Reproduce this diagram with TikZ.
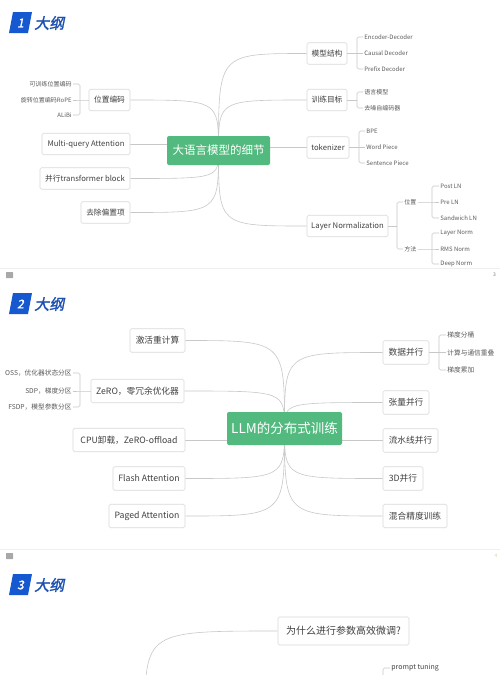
\documentclass[tikz,border=0pt]{standalone}
\usepackage{fontspec}
\setmainfont{Noto Sans CJK SC}
\newfontfamily\titlefont[FakeSlant=0.2,FakeBold=1.5]{Noto Sans CJK SC}
\usetikzlibrary{backgrounds}
\definecolor{mmgreen}{HTML}{52BA7E}
\definecolor{boxline}{HTML}{D9D9D9}
\definecolor{linegray}{HTML}{C8C8C8}
\definecolor{txtdark}{HTML}{404040}
\definecolor{txtleaf}{HTML}{5A5A5A}
\definecolor{titleblue}{HTML}{1558D0}
\definecolor{titletext}{HTML}{1C50B0}
\definecolor{sepgray}{HTML}{EFEFEF}
\definecolor{markgray}{HTML}{A8A8A8}
\definecolor{pagefaint}{HTML}{E2D3A6}
\begin{document}
\begin{tikzpicture}[x=1pt,y=-1pt,
  box/.style={draw=boxline, fill=white, rounded corners=1.5pt, line width=0.6pt, text=txtdark, inner sep=0pt, align=center},
  sa/.style={box, minimum height=21.5pt, font=\fontsize{7.7}{9}\selectfont},
  sb/.style={box, minimum height=23.5pt, font=\fontsize{8.7}{10}\selectfont},
  hub/.style={fill=mmgreen, text=white, rounded corners=2pt, inner sep=0pt},
  leaf/.style={text=txtleaf, inner sep=1.2pt, font=\fontsize{6}{7}\selectfont},
  leafb/.style={text=txtleaf, inner sep=1.2pt, font=\fontsize{6.7}{7.5}\selectfont},
  link/.style={draw=linegray, line width=0.6pt},
  brk/.style={draw=linegray, line width=0.6pt, rounded corners=1.5pt},
  ttl/.style={text=titletext, font=\titlefont\fontsize{15}{15}\selectfont, inner sep=0pt},
  ttn/.style={text=white, font=\titlefont\fontsize{12}{12}\selectfont, inner sep=0pt},
]
\useasboundingbox (0,0) rectangle (500,675);

% ---------- titles ----------
\foreach \i/\o in {1/0,2/281,3/562}{
  \fill[titleblue] (13,{12+\o}) -- (32,{12+\o}) -- (28,{33+\o}) -- (9,{33+\o}) -- cycle;
  \node[ttn] (num\i) at (20.5,{23+\o}) {\i};
  \node[ttl, anchor=west] (ttl\i) at (34,{23+\o}) {大纲};
}

% ---------- slide separators and page marks ----------
\draw[sepgray, line width=1pt] (0,268) -- (500,268);
\draw[sepgray, line width=1pt] (0,549) -- (500,549);
\fill[markgray, rounded corners=0.5pt] (6,272) rectangle (13,278);
\fill[markgray, rounded corners=0.5pt] (6,553) rectangle (13,559);
\node[text=gray, font=\fontsize{5}{5}\selectfont, inner sep=0pt] (pg1) at (494.5,274.5) {3};
\node[text=pagefaint, font=\fontsize{5}{5}\selectfont, inner sep=0pt] (pg2) at (496,555.5) {4};

% ================= slide 1 =================
\node[hub, minimum width=103pt, minimum height=29pt, font=\fontsize{11.5}{13}\selectfont] (c1) at (218.5,150.5) {大语言模型的细节};

\node[sa, minimum width=40pt] (mx) at (327,53.5) {模型结构};
\node[sa, minimum width=40pt] (xl) at (327,100) {训练目标};
\node[sa, minimum width=42pt] (tk) at (328,147.5) {tokenizer};
\node[sa, minimum width=81pt] (ln) at (347.5,226) {Layer Normalization};
\node[sa, minimum width=41pt] (wz) at (109.5,100) {位置编码};
\node[sa, minimum width=88pt] (mq) at (86,144) {Multi-query Attention};
\node[sa, minimum width=90pt] (bx) at (85,178.5) {并行transformer block};
\node[sa, minimum width=49pt] (qc) at (105.5,212.5) {去除偏置项};

% leaves slide 1
\node[leaf, anchor=west] (m1) at (363,37) {Encoder-Decoder};
\node[leaf, anchor=west] (m2) at (363,53.5) {Causal Decoder};
\node[leaf, anchor=west] (m3) at (363,69) {Prefix Decoder};
\node[leaf, anchor=west] (x1) at (363,92) {语言模型};
\node[leaf, anchor=west] (x2) at (363,108) {去噪自编码器};
\node[leaf, anchor=west] (k1) at (365,131) {BPE};
\node[leaf, anchor=west] (k2) at (365,147.5) {Word Piece};
\node[leaf, anchor=west] (k3) at (365,163) {Sentence Piece};
\node[leaf, anchor=west] (p1) at (403,202) {位置};
\node[leaf, anchor=west] (p2) at (403,249) {方法};
\node[leaf, anchor=west] (n1) at (439,186) {Post LN};
\node[leaf, anchor=west] (n2) at (439,202) {Pre LN};
\node[leaf, anchor=west] (n3) at (439,218) {Sandwich LN};
\node[leaf, anchor=west] (n4) at (439,233) {Layer Norm};
\node[leaf, anchor=west] (n5) at (439,249) {RMS Norm};
\node[leaf, anchor=west] (n6) at (439,264) {Deep Norm};
\node[leaf, anchor=east] (w1) at (73,84) {可训练位置编码};
\node[leaf, anchor=east] (w2) at (73,100) {旋转位置编码RoPE};
\node[leaf, anchor=east] (w3) at (73,115) {ALiBi};

\coordinate (mxb) at (357,53.5);
\coordinate (xlb) at (357,100);
\coordinate (tkb) at (359,147.5);
\coordinate (lnb) at (397,226);
\coordinate (p1b) at (432,202);
\coordinate (p2b) at (432,249);
\coordinate (wzb) at (80,100);

% ================= slide 2 =================
\node[hub, minimum width=115pt, minimum height=33pt, font=\fontsize{13.5}{15}\selectfont] (c2) at (284.5,428.5) {LLM的分布式训练};

\node[sb, minimum width=55pt] (jh) at (157.5,340.5) {激活重计算};
\node[sb, minimum width=93pt] (zr) at (137.5,391) {ZeRO，零冗余优化器};
\node[sb, minimum width=112pt] (cpu) at (129,440) {CPU卸载，ZeRO-offload};
\node[sb, minimum width=72pt] (fa) at (149,478.5) {Flash Attention};
\node[sb, minimum width=76pt] (pa) at (147,516) {Paged Attention};
\node[sb, minimum width=46pt] (sj) at (406,352.5) {数据并行};
\node[sb, minimum width=46pt] (zl) at (406,402.5) {张量并行};
\node[sb, minimum width=55pt] (ls) at (410.5,440.5) {流水线并行};
\node[sb, minimum width=40pt] (sd) at (403,478.5) {3D并行};
\node[sb, minimum width=64pt] (hh) at (415,516) {混合精度训练};

\node[leafb, anchor=west] (d1) at (446,335) {梯度分桶};
\node[leafb, anchor=west] (d2) at (446,352.5) {计算与通信重叠};
\node[leafb, anchor=west] (d3) at (446,370) {梯度累加};
\node[leafb, anchor=east] (z1) at (73,373) {OSS，优化器状态分区};
\node[leafb, anchor=east] (z2) at (73,391) {SDP，梯度分区};
\node[leafb, anchor=east] (z3) at (73,407) {FSDP，模型参数分区};

\coordinate (sjb) at (439,352.5);
\coordinate (zrb) at (80,391);

% ================= slide 3 =================
\node[box, minimum width=131pt, minimum height=28pt, font=\fontsize{10}{12}\selectfont] (q3) at (343.5,631) {为什么进行参数高效微调?};
\node[text=txtdark, inner sep=1.2pt, font=\fontsize{7}{8}\selectfont, anchor=west] (pt) at (390,668) {prompt tuning};
\coordinate (c3) at (145,720);
\coordinate (ptb) at (383,700);

% ================= connectors =================
\begin{scope}[on background layer]
  \fill[white] (0,0) rectangle (500,675);
  % slide 1
  \path[link] (c1.center) .. controls (c1.center |- mx.west) .. (mx.west);
  \path[link] (c1.center) .. controls (c1.center |- xl.west) .. (xl.west);
  \path[link] (tk.west -| c1.east) -- (tk.west);
  \path[link] (c1.center) .. controls (c1.center |- ln.west) .. (ln.west);
  \path[link] (c1.center) .. controls (c1.center |- wz.east) .. (wz.east);
  \path[link] (mq.east) -- (mq.east -| c1.west);
  \path[link] (c1.center) .. controls (c1.center |- bx.east) .. (bx.east);
  \path[link] (c1.center) .. controls (c1.center |- qc.east) .. (qc.east);
  % slide 2
  \path[link] (c2.center) .. controls (c2.center |- jh.east) .. (jh.east);
  \path[link] (c2.center) .. controls (c2.center |- zr.east) .. (zr.east);
  \path[link] (cpu.east) -- (cpu.east -| c2.west);
  \path[link] (c2.center) .. controls (c2.center |- fa.east) .. (fa.east);
  \path[link] (c2.center) .. controls (c2.center |- pa.east) .. (pa.east);
  \path[link] (c2.center) .. controls (c2.center |- sj.west) .. (sj.west);
  \path[link] (c2.center) .. controls (c2.center |- zl.west) .. (zl.west);
  \path[link] (ls.west -| c2.east) -- (ls.west);
  \path[link] (c2.center) .. controls (c2.center |- sd.west) .. (sd.west);
  \path[link] (c2.center) .. controls (c2.center |- hh.west) .. (hh.west);
  % slide 3
  \path[link] (c3) .. controls (c3 |- q3.west) .. (q3.west);
\end{scope}

% brackets
\path[link] (mx.east) -- (mxb) -- (m2.west);
\path[brk] (m1.west) -| (mxb) |- (m3.west);
\path[link] (xl.east) -- (xlb);
\path[brk] (x1.west) -| (xlb) |- (x2.west);
\path[link] (tk.east) -- (tkb) -- (k2.west);
\path[brk] (k1.west) -| (tkb) |- (k3.west);
\path[link] (ln.east) -- (lnb);
\path[brk] (p1.west) -| (lnb) |- (p2.west);
\path[link] (p1.east) -- (p1b) -- (n2.west);
\path[brk] (n1.west) -| (p1b) |- (n3.west);
\path[link] (p2.east) -- (p2b) -- (n5.west);
\path[brk] (n4.west) -| (p2b) |- (n6.west);
\path[link] (wz.west) -- (wzb) -- (w2.east);
\path[brk] (w1.east) -| (wzb) |- (w3.east);
\path[link] (sj.east) -- (sjb) -- (d2.west);
\path[brk] (d1.west) -| (sjb) |- (d3.west);
\path[link] (zr.west) -- (zrb) -- (z2.east);
\path[brk] (z1.east) -| (zrb) |- (z3.east);
\path[brk] (pt.west) -| (ptb);
\end{tikzpicture}
\end{document}
